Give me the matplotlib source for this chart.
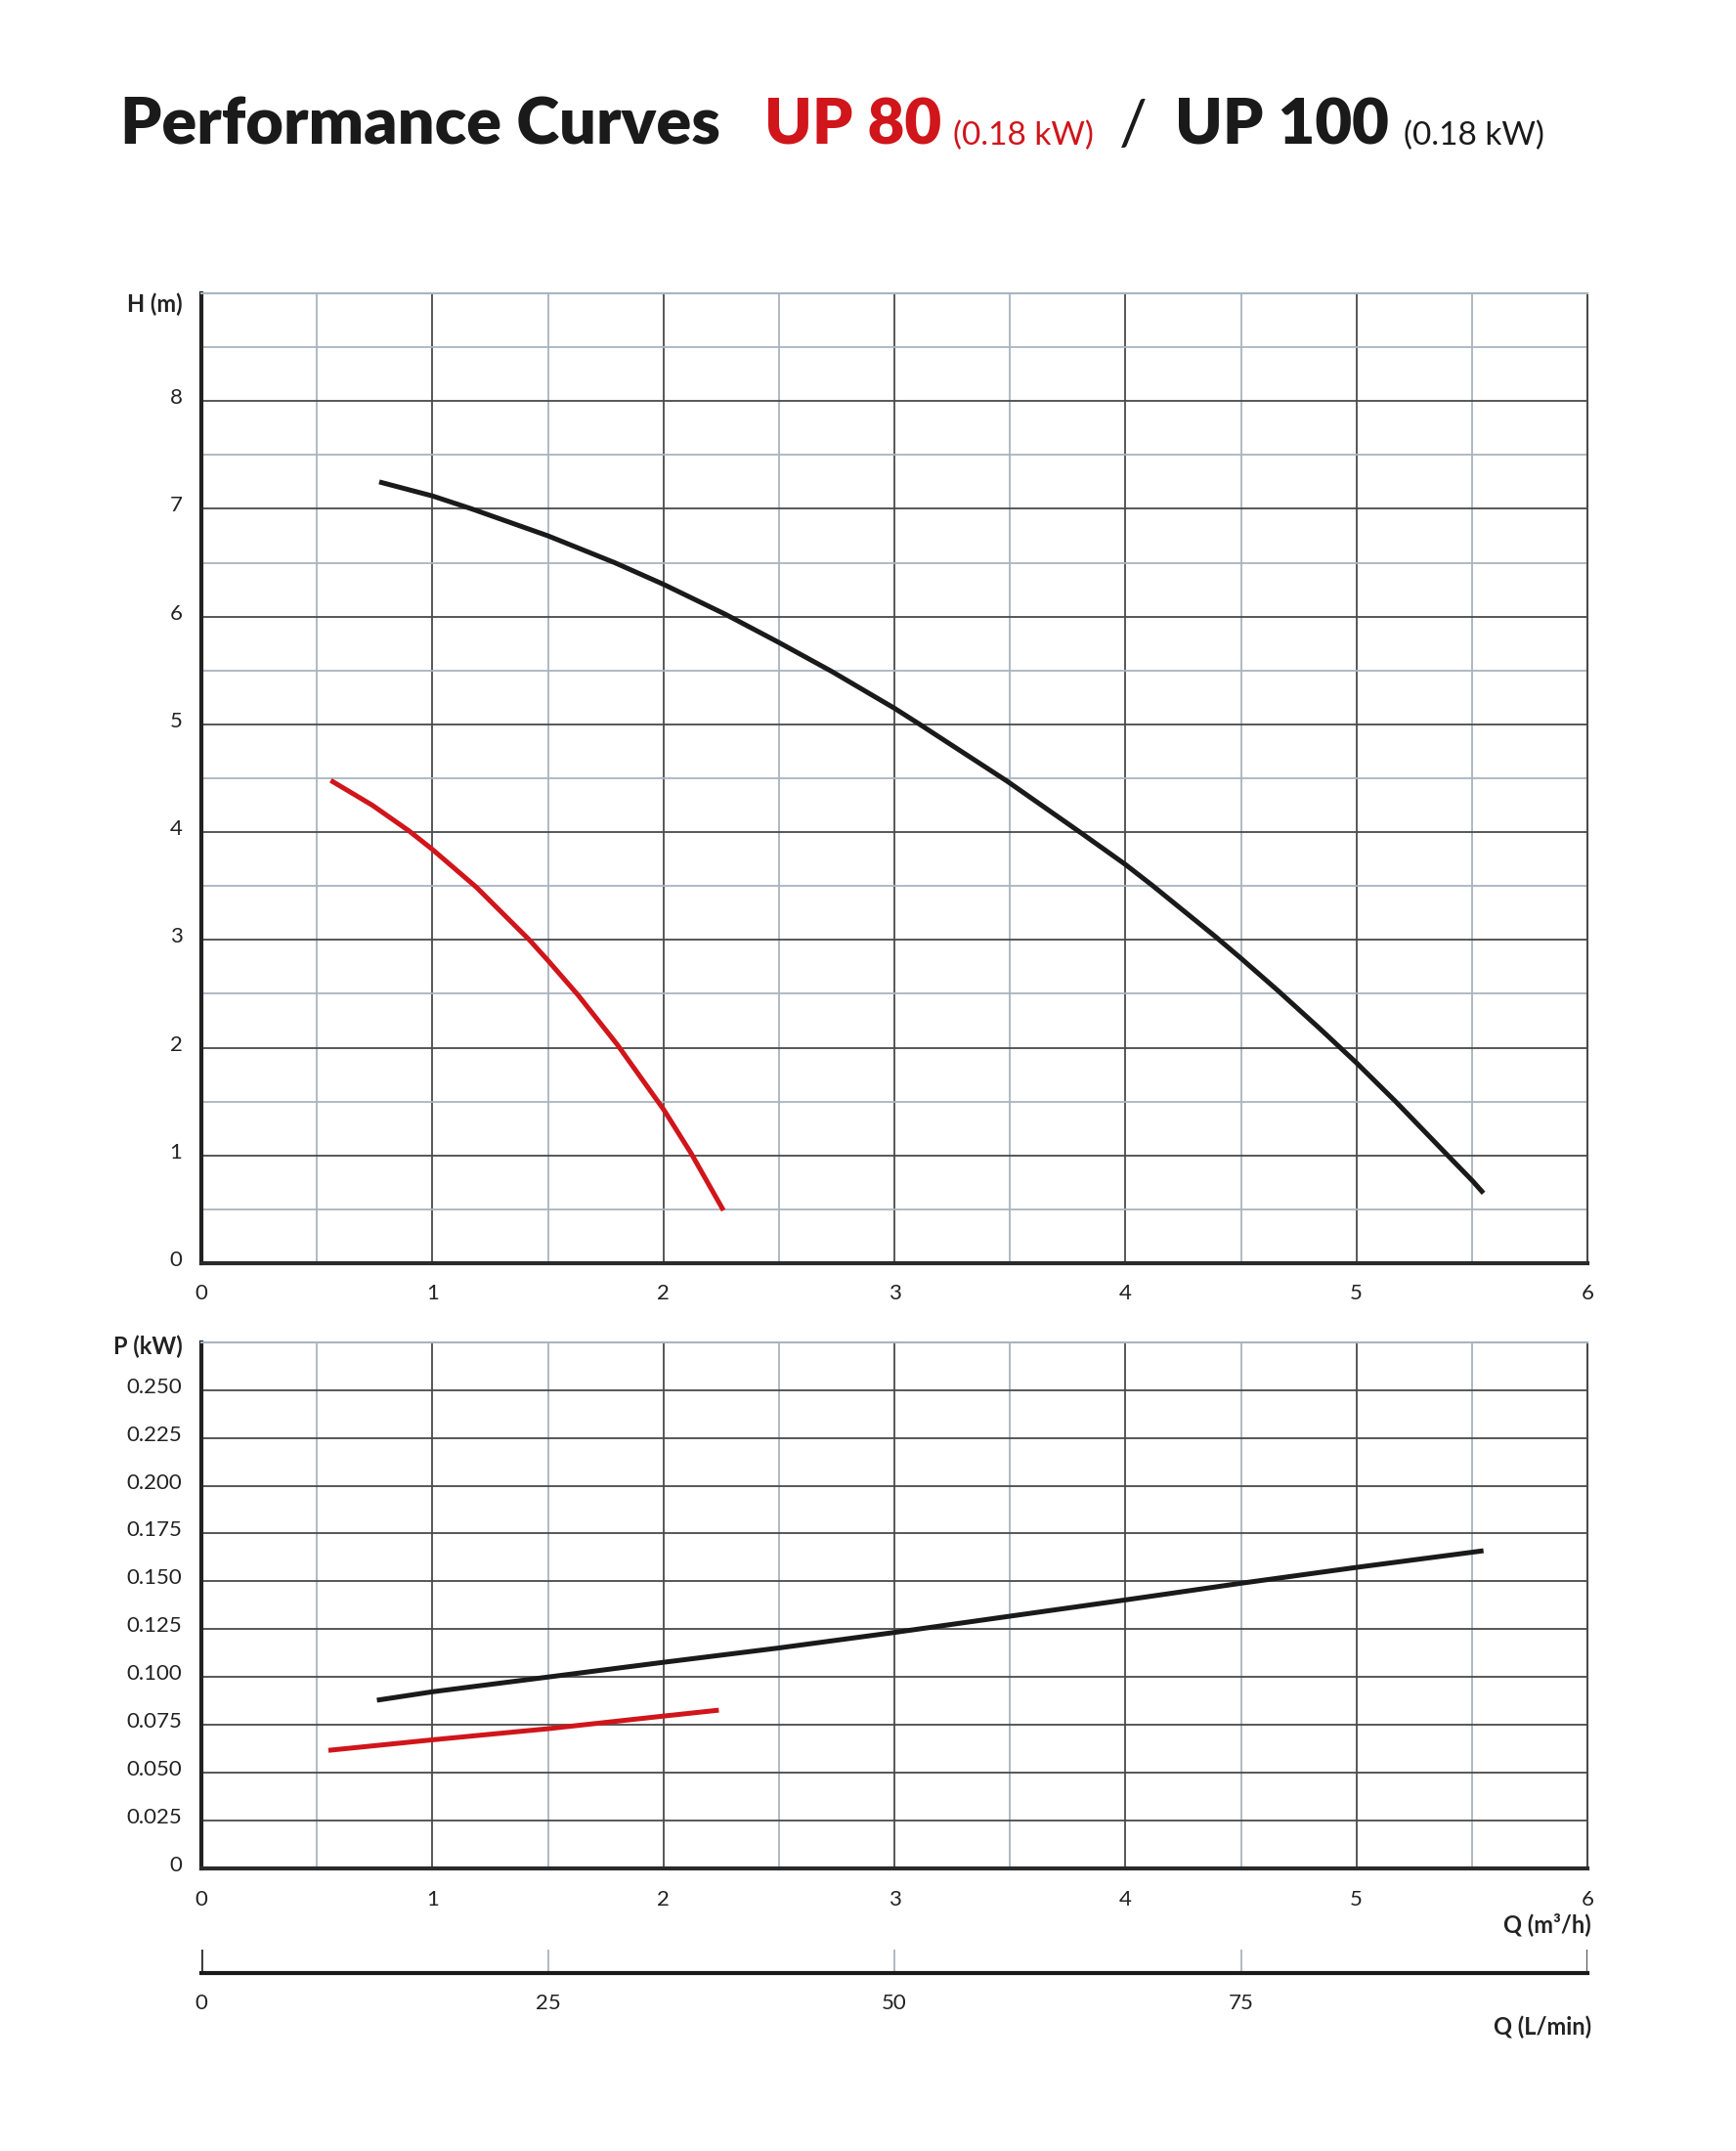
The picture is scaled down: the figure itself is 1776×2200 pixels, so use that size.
import numpy as np
import matplotlib
matplotlib.use("Agg")
import matplotlib.pyplot as plt
from matplotlib.transforms import ScaledTranslation

plt.rcParams['font.family'] = ['Lato', 'DejaVu Sans']

# Colours
RED = "#d0151b"
BLACK = "#1a1a1a"
GRID_DARK = "#4a4a4a"
GRID_LIGHT = "#a9b4bf"

# Data: flow Q (m3/h) vs head H (m) and power P (kW)
q_h_up100 = [0.77, 1.0, 1.17, 1.5, 1.79, 2.0, 2.27, 2.5, 2.73, 3.0, 3.11, 3.49,
             3.81, 4.0, 4.12, 4.39, 4.5, 4.66, 4.84, 4.93, 5.0, 5.17, 5.40, 5.5, 5.55]
h_up100 = [7.25, 7.12, 7.00, 6.75, 6.50, 6.30, 6.02, 5.76, 5.49, 5.15, 5.00, 4.47,
           3.99, 3.70, 3.50, 3.03, 2.83, 2.53, 2.18, 2.00, 1.86, 1.50, 0.99, 0.77, 0.65]

q_h_up80 = [0.56, 0.74, 0.90, 1.0, 1.19, 1.42, 1.5, 1.63, 1.80, 1.98, 2.0, 2.12, 2.26]
h_up80 = [4.48, 4.25, 4.01, 3.84, 3.49, 3.00, 2.81, 2.49, 2.03, 1.49, 1.43, 1.02, 0.49]

q_p_up100 = [0.76, 1.0, 1.5, 2.0, 2.5, 3.0, 3.5, 4.0, 4.5, 5.0, 5.55]
p_up100 = [0.0879, 0.0923, 0.1000, 0.1077, 0.1152, 0.1233, 0.1318, 0.1403, 0.1490, 0.1573, 0.1660]

q_p_up80 = [0.55, 1.0, 1.5, 2.0, 2.24]
p_up80 = [0.0617, 0.0672, 0.0730, 0.0796, 0.0827]

q_ticks = [0, 1, 2, 3, 4, 5, 6]
h_ticks = [0, 1, 2, 3, 4, 5, 6, 7, 8, 9]
p_ticks = [0, 0.025, 0.05, 0.075, 0.1, 0.125, 0.15, 0.175, 0.2, 0.225, 0.25, 0.275]
p_labels = ["0", "0.025", "0.050", "0.075", "0.100", "0.125", "0.150",
            "0.175", "0.200", "0.225", "0.250", ""]
lmin_ticks = [0, 25, 50, 75, 100]
lmin_labels = ["0", "25", "50", "75", ""]

W, H = 1776, 2200
fig = plt.figure(figsize=(W / 100, H / 100), dpi=100)
lift = ScaledTranslation(0, 5 / 100, fig.dpi_scale_trans)

def px(x, y):
    return x / W, 1 - y / H

x0, x1 = 206 / W, 1624 / W
TICK_SIZE = 16

def style_axes(ax, ymax):
    ax.set_xlim(0, 6)
    ax.set_ylim(0, ymax)
    ax.set_xticks(q_ticks)
    ax.set_xticks(np.arange(0.5, 6, 1.0), minor=True)
    ax.grid(which="major", color=GRID_DARK, lw=1.3)
    ax.grid(which="minor", color=GRID_LIGHT, lw=1.3)
    ax.set_axisbelow(True)
    ax.tick_params(which="both", length=0, labelsize=TICK_SIZE, colors="#222222")
    ax.tick_params(axis="y", pad=14)
    ax.spines["left"].set_linewidth(3)
    ax.spines["left"].set_color("#222222")
    ax.spines["bottom"].set_linewidth(3)
    ax.spines["bottom"].set_color("#2a2a2a")
    ax.spines["right"].set_linewidth(1.5)
    ax.spines["right"].set_color(GRID_DARK)
    ax.spines["top"].set_linewidth(1.5)
    ax.spines["top"].set_color(GRID_LIGHT)

def lift_ylabels(ax):
    for lab in ax.get_yticklabels():
        lab.set_va("center_baseline")
        lab.set_transform(lab.get_transform() + lift)

line_kw = dict(lw=3.6, solid_capstyle="butt", solid_joinstyle="round")

# Head chart
b = 1 - 1292 / H
t = 1 - 300 / H
ax1 = fig.add_axes([x0, b, x1 - x0, t - b])
style_axes(ax1, 9)
ax1.set_yticks(h_ticks)
ax1.set_yticklabels([str(v) for v in h_ticks[:-1]] + [""])
ax1.set_yticks(np.arange(0.5, 9, 1.0), minor=True)
ax1.tick_params(axis="x", pad=15)
ax1.plot(q_h_up100, h_up100, color=BLACK, **line_kw)
ax1.plot(q_h_up80, h_up80, color=RED, **line_kw)

# Power chart
b = 1 - 1911 / H
t = 1 - 1372.7 / H
ax2 = fig.add_axes([x0, b, x1 - x0, t - b])
style_axes(ax2, 0.275)
ax2.set_yticks(p_ticks)
ax2.set_yticklabels(p_labels)
ax2.tick_params(axis="x", pad=16)
ax2.plot(q_p_up100, p_up100, color=BLACK, **line_kw)
ax2.plot(q_p_up80, p_up80, color=RED, **line_kw)

# L/min scale
b = 1 - 2017.7 / H
ax3 = fig.add_axes([x0, b, x1 - x0, 24 / H])
ax3.set_xlim(0, 100)
ax3.set_ylim(0, 1)
for s in ["top", "left", "right"]:
    ax3.spines[s].set_visible(False)
ax3.spines["bottom"].set_linewidth(3)
ax3.spines["bottom"].set_color("#1a1a1a")
ax3.set_yticks([])
ax3.set_xticks(lmin_ticks)
ax3.set_xticklabels(lmin_labels)
ax3.tick_params(axis="x", length=0, labelsize=TICK_SIZE, colors="#222222", pad=15)
for v in lmin_ticks:
    end = v in (lmin_ticks[0], lmin_ticks[-1])
    ax3.axvline(v, color="#333333" if end else GRID_LIGHT, lw=2 if end else 1.3)

lift_ylabels(ax1)
lift_ylabels(ax2)

# Axis labels
lab_kw = dict(ha="right", va="center", fontsize=17, fontweight="bold", color="#222222")
fig.text(*px(187, 311), "H (m)", **lab_kw)
fig.text(*px(187, 1377), "P (kW)", **lab_kw)
fig.text(*px(1628, 1968), "Q (m³/h)", **lab_kw)
fig.text(*px(1628, 2073), "Q (L/min)", **lab_kw)

# Title built from pieces (left edge in px, text, colour, size, weight)
pieces = [
    (123, "Performance Curves", BLACK, 48, "heavy"),
    (782, "UP 80", RED, 47, "heavy"),
    (975, "(0.18 kW)", RED, 24, "normal"),
    (1145, "/", BLACK, 46, "normal"),
    (1202, "UP 100", BLACK, 47, "heavy"),
    (1436, "(0.18 kW)", BLACK, 24, "normal"),
]
ybase = 1 - 148 / H
for xl, txt, col, size, weight in pieces:
    fig.text(xl / W, ybase, txt, color=col, fontsize=size, fontweight=weight,
             ha="left", va="baseline")

fig.savefig("out.png", dpi=100, facecolor="white")
